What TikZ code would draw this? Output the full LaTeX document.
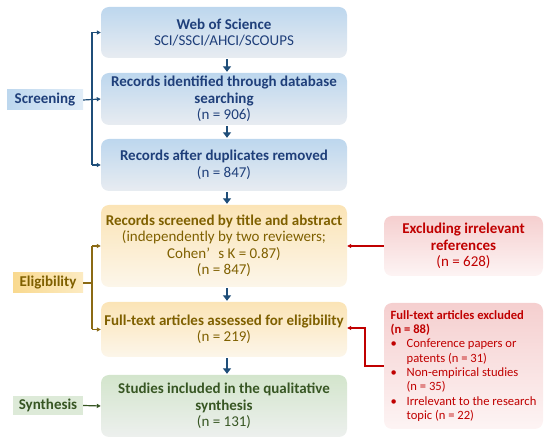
\documentclass[tikz,border=0pt]{standalone}
\usepackage{fontspec}
\setmainfont{Carlito}
\usetikzlibrary{arrows.meta,calc}
\definecolor{bluetxt}{HTML}{1F3F7A}
\definecolor{bluearr}{HTML}{1F4E79}
\definecolor{bluetop}{HTML}{BDD7EE}
\definecolor{bluebot}{HTML}{E8ECF1}
\definecolor{yeltxt}{HTML}{7F6000}
\definecolor{yeltop}{HTML}{FBE4B6}
\definecolor{yelbot}{HTML}{FCF6EA}
\definecolor{yelarr}{HTML}{8B6A14}
\definecolor{yellblL}{HTML}{F9D98F}
\definecolor{yellblR}{HTML}{FCEBC2}
\definecolor{grntxt}{HTML}{375623}
\definecolor{grntop}{HTML}{D3E5CC}
\definecolor{grnbot}{HTML}{EDF0EE}
\definecolor{grnlbl}{HTML}{DDEAD8}
\definecolor{redtxt}{HTML}{C00000}
\definecolor{redtop}{HTML}{F5CFCF}
\definecolor{redbot}{HTML}{FDF4F4}
\tikzset{
  mainfont/.style={font=\fontsize{15}{16.5}\selectfont},
  smallfont/.style={font=\fontsize{12.6}{14.3}\selectfont},
  box/.style={mainfont, rounded corners=8pt, minimum width=246pt, inner sep=0pt, align=center},
  bluebox/.style={box, top color=bluetop, bottom color=bluebot, text=bluetxt},
  yelbox/.style={box, top color=yeltop, bottom color=yelbot, text=yeltxt},
  grnbox/.style={box, top color=grntop, bottom color=grnbot, text=grntxt},
  redbox/.style={rounded corners=8pt, minimum width=159pt, inner sep=0pt, top color=redtop, bottom color=redbot, text=redtxt},
  lbl/.style={inner sep=0pt, font=\fontsize{15}{16.5}\selectfont\bfseries},
  downarr/.style={bluearr, line width=2.6pt, -{Triangle[width=8pt,length=5.5pt]}, shorten <=1pt, shorten >=1pt},
  thinarr/.style={line width=1.2pt, -{Triangle[width=4pt,length=4pt]}},
  thinline/.style={line width=1.2pt},
}
\newcommand{\bulitem}{\makebox[16pt][l]{\textbullet}}
\begin{document}
\begin{tikzpicture}[x=1pt,y=-1pt]
\useasboundingbox (0,0) rectangle (550,446);

% main boxes
\node[bluebox, minimum height=51pt] (b1) at (224,32.5) {\textbf{Web of Science}\\SCI/SSCI/AHCI/SCOUPS};
\node[bluebox, minimum height=52pt] (b2) at (224,99) {\textbf{Records identified through database}\\\textbf{searching}\\(n = 906)};
\node[bluebox, minimum height=52pt] (b3) at (224,165) {\textbf{Records after duplicates removed}\\(n = 847)};
\node[yelbox, minimum height=82pt] (b4) at (224,246) {\textbf{Records screened by title and abstract}\\(independently by two reviewers;\\Cohen’\hspace{0.55em}s K = 0.87)\\(n = 847)};
\node[yelbox, minimum height=55pt] (b5) at (224,329.5) {\textbf{Full-text articles assessed for eligibility}\\(n = 219)};
\node[grnbox, minimum height=62pt] (b6) at (224,406) {\textbf{Studies included in the qualitative}\\\textbf{synthesis}\\(n = 131)};

% red boxes
\node[redbox, minimum height=60pt, mainfont, align=center] (r1) at (463.5,246) {\textbf{Excluding irrelevant}\\\textbf{references}\\(n = 628)};
\node[redbox, minimum height=126pt, smallfont, align=left] (r2) at (463.5,366) {%
  \textbf{Full-text articles excluded}\\
  \textbf{(n = 88)}\\
  \bulitem Conference papers or\\
  \hspace*{16pt}patents (n = 31)\\
  \bulitem Non-empirical studies\\
  \hspace*{16pt}(n = 35)\\
  \bulitem Irrelevant to the research\\
  \hspace*{16pt}topic (n = 22)};

% stage labels
\node[lbl, text=bluetxt, left color=bluetop, right color=bluetop!45!white, minimum width=76pt, minimum height=20pt] (scr) at (45,100) {Screening};
\node[lbl, text=yeltxt, left color=yellblL, right color=yellblR, minimum width=70pt, minimum height=20pt] (eli) at (48,283) {Eligibility};
\node[lbl, text=grntxt, fill=grnlbl, minimum width=70pt, minimum height=19pt] (syn) at (48,405.5) {Synthesis};

% bracket coordinates
\coordinate (bx) at (92,0);
\coordinate (rx) at (365,0);

% down arrows
\draw[downarr] ([xshift=3pt]b1.south) -- ([xshift=3pt]b2.north);
\draw[downarr] ([xshift=3pt]b2.south) -- ([xshift=3pt]b3.north);
\draw[downarr] ([xshift=3pt]b3.south) -- ([xshift=3pt]b4.north);
\draw[downarr] ([xshift=3pt]b4.south) -- ([xshift=3pt]b5.north);
\draw[downarr] ([xshift=3pt]b5.south) -- ([xshift=3pt]b6.north);

% screening bracket
\draw[thinline, bluearr] (bx |- b1.west) -- (bx |- b3.west);
\draw[thinarr, bluearr] (bx |- b1.west) -- (b1.west);
\draw[thinarr, bluearr] (bx |- b3.west) -- (b3.west);
\draw[thinarr, bluearr] (scr.east) -- (b2.west);

% eligibility bracket
\draw[thinline, yelarr] (bx |- b4.west) -- (bx |- b5.west);
\draw[thinarr, yelarr] (bx |- b4.west) -- (b4.west);
\draw[thinarr, yelarr] (bx |- b5.west) -- (b5.west);
\draw[thinline, yelarr] (eli.east) -- (bx |- eli.east);

% synthesis
\draw[thinarr, grntxt] (syn.east) -- (b6.west);

% red arrows
\draw[thinarr, redtxt] (r1.west) -- (b4.east);
\draw[thinarr, redtxt] (r2.west) -- (rx |- r2.west) |- ([yshift=1.5pt]b5.east);
\end{tikzpicture}
\end{document}
